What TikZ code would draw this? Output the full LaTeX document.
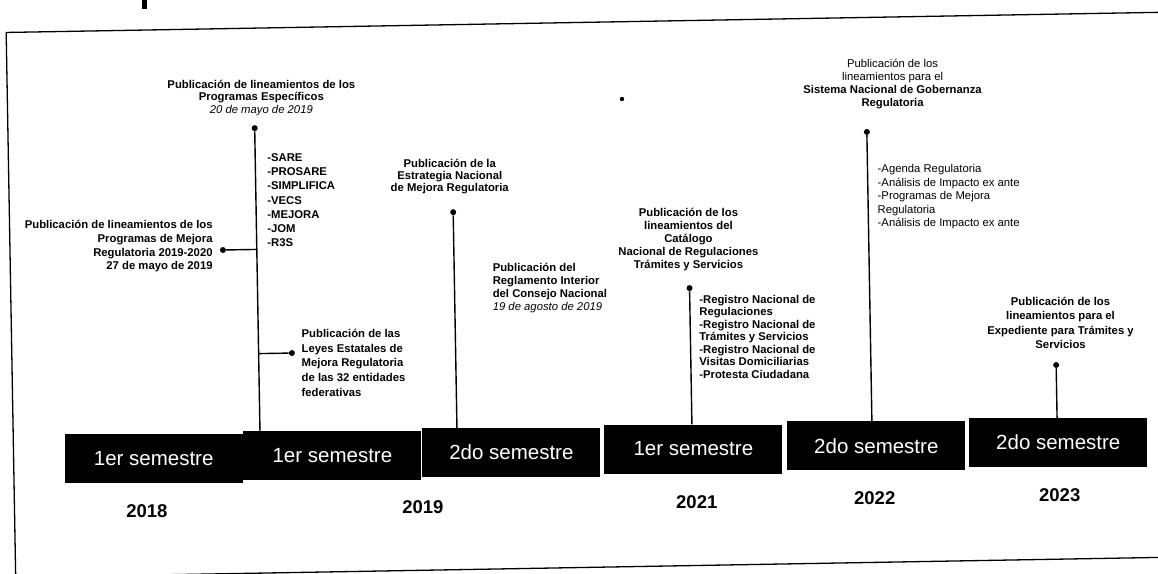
\documentclass[tikz,border=0pt]{standalone}
\usepackage{fontspec}
\setmainfont{Liberation Sans}
\begin{document}
\begin{tikzpicture}[x=1pt,y=-1pt,
  tb/.style={inner sep=0pt, font=\fontsize{11.3}{#1}\selectfont\bfseries},
  semb/.style={fill=black, text=white, minimum width=178pt, minimum height=49pt,
    inner sep=0pt, font=\fontsize{20.5}{24}\selectfont},
  yr/.style={inner sep=0pt, font=\fontsize{18.5}{22}\selectfont\bfseries},
  dotn/.style={circle, fill=black, minimum size=6pt, inner sep=0pt},
  conn/.style={line width=1.4pt, black},
  framel/.style={line width=1.3pt, black}]
\useasboundingbox (0,0) rectangle (1158,573);
\fill[white] (0,0) rectangle (1158,573);
\clip (0,0) rectangle (1158,573);
% scan marks
\fill[black] (142,0) rectangle (147,9);
\fill[black] (622,99) circle (2.2);
\begin{scope}[rotate around={1:(579,286.5)}]
  % frame
  \draw[framel] (1200,22.5) -- (10.7,22.5) -- (10.7,567.5) -- (1200,567.5);
  % semester boxes
  \node[semb] (b1) at (150.75,451) {1er semestre};
  \node[semb] (b2) at (329.5,451) {1er semestre};
  \node[semb] (b3) at (508.5,451) {2do semestre};
  \node[semb] (b4) at (690.5,451) {1er semestre};
  \node[semb] (b5) at (873.5,451) {2do semestre};
  \node[semb] (b6) at (1055.5,451) {2do semestre};
  % years
  \node[yr] (y18) at (143,504) {2018};
  \node[yr] (y19) at (419,504) {2019};
  \node[yr] (y21) at (693,504) {2021};
  \node[yr] (y22) at (871,503) {2022};
  \node[yr] (y23) at (1056,503.5) {2023};
  % dots
  \node[dotn] (dA) at (257.5,122.5) {};
  \node[dotn] (dMej) at (223.6,243.8) {};
  \node[dotn] (dLey) at (290.8,348) {};
  \node[dotn] (dB) at (454.5,210) {};
  \node[dotn] (dC) at (689.5,290) {};
  \node[dotn] (dD) at (869.5,137) {};
  \node[dotn] (dE) at (1054.7,373.3) {};
  % connectors
  \draw[conn] (dA) -- (dA |- b2.north);
  \draw[conn] (dMej) -- (dMej -| dA);
  \draw[conn] (dLey) -- (dLey -| dA);
  \draw[conn] (dB) -- (dB |- b3.north);
  \draw[conn] (dC) -- (dC |- b4.north);
  \draw[conn] (dD) -- (dD |- b5.north);
  \draw[conn] (dE) -- (dE |- b6.north);
  % texts
  \node[tb=12.5, anchor=north, align=center] (tPE) at (265,74)
    {Publicación de lineamientos de los\\Programas Específicos\\{\mdseries\itshape 20 de mayo de 2019}};
  \node[tb=14.2, anchor=north west, align=left] (tSARE) at (269.5,148)
    {-SARE\\-PROSARE\\-SIMPLIFICA\\-VECS\\-MEJORA\\-JOM\\-R3S};
  \node[tb=13.7, anchor=north east, align=right] (tPM) at (214,214)
    {Publicación de lineamientos de los\\Programas de Mejora\\Regulatoria 2019-2020\\27 de mayo de 2019};
  \node[tb=14.7, anchor=north west, align=left] (tLey) at (300.8,324)
    {Publicación de las\\Leyes Estatales de\\Mejora Regulatoria\\de las 32 entidades\\federativas};
  \node[tb=12, anchor=north, align=center] (tEst) at (452,157)
    {Publicación de la\\Estrategia Nacional\\de Mejora Regulatoria};
  \node[tb=13, anchor=north west, align=left] (tReg) at (493,262)
    {Publicación del\\Reglamento Interior\\del Consejo Nacional\\{\mdseries\itshape 19 de agosto de 2019}};
  \node[tb=13, anchor=north, align=center] (tCat) at (689.8,210)
    {Publicación de los\\lineamientos del\\Catálogo\\Nacional de Regulaciones\\Trámites y Servicios};
  \node[tb=12.5, anchor=north west, align=left] (tRN) at (699,297)
    {-Registro Nacional de\\Regulaciones\\-Registro Nacional de\\Trámites y Servicios\\-Registro Nacional de\\Visitas Domiciliarias\\-Protesta Ciudadana};
  \node[tb=13, anchor=north, align=center] (tSis) at (896.5,64.5)
    {{\mdseries Publicación de los}\\{\mdseries lineamientos para el}\\Sistema Nacional de Gobernanza\\Regulatoria};
  \node[tb=13.5, anchor=north west, align=left] (tAg) at (879.6,169.5)
    {\mdseries -Agenda Regulatoria\\\mdseries -Análisis de Impacto ex ante\\\mdseries -Programas de Mejora\\\mdseries Regulatoria\\\mdseries -Análisis de Impacto ex ante};
  \node[tb=14.5, anchor=north, align=center] (tExp) at (1060.3,305)
    {Publicación de los\\lineamientos para el\\Expediente para Trámites y\\Servicios};
\end{scope}
\end{tikzpicture}
\end{document}
